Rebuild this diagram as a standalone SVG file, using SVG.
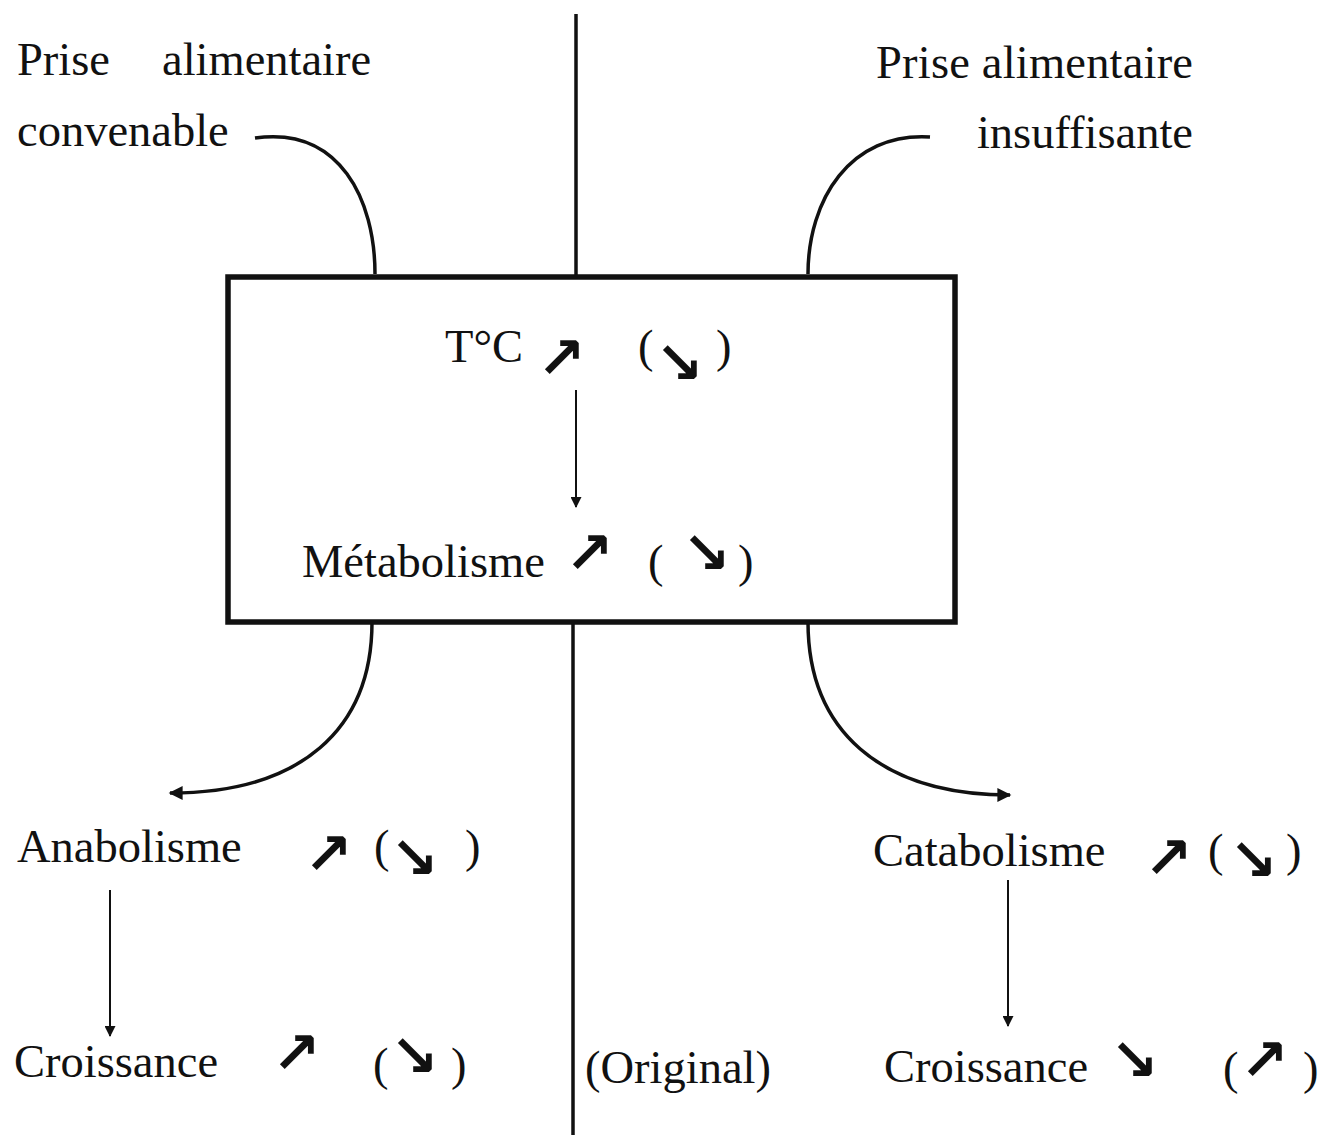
<svg xmlns="http://www.w3.org/2000/svg" width="1324" height="1135" viewBox="0 0 1324 1135">
<style>
.t{font-family:"Liberation Serif","Times New Roman",serif;font-size:46.5px;fill:#111}
.a{font-family:"DejaVu Sans",sans-serif;font-weight:bold;font-size:58px;fill:#111}
.ln{fill:none;stroke:#111;stroke-width:3.5}
.thin{fill:none;stroke:#111;stroke-width:2}
</style>
<defs>
<marker id="ah" viewBox="0 0 10 10" refX="9" refY="5" markerWidth="18" markerHeight="14" markerUnits="userSpaceOnUse" orient="auto"><path d="M0,0 L10,5 L0,10 Z" fill="#111"/></marker>
<marker id="ahs" viewBox="0 0 10 10" refX="9" refY="5" markerWidth="14" markerHeight="11" markerUnits="userSpaceOnUse" orient="auto"><path d="M0,0 L10,5 L0,10 Z" fill="#111"/></marker>
</defs>
<rect width="1324" height="1135" fill="#fff"/>
<g id="connectors">
<line class="ln" x1="576" y1="14" x2="576" y2="276" stroke-width="4"/>
<line class="ln" x1="573" y1="622" x2="573" y2="1135" stroke-width="4"/>
<path class="ln" d="M255,138 C340,126 375,200 375,274"/>
<path class="ln" d="M930,137 C850,132 808,200 808,274"/>
<path class="ln" d="M372,622 C372,730 300,793 170,793" marker-end="url(#ah)"/>
<path class="ln" d="M808,622 C808,730 880,795 1010,795" marker-end="url(#ah)"/>
<line class="thin" x1="576" y1="390" x2="576" y2="507" marker-end="url(#ahs)"/>
<line class="thin" x1="110" y1="890" x2="110" y2="1036" marker-end="url(#ahs)"/>
<line class="thin" x1="1008" y1="880" x2="1008" y2="1026" marker-end="url(#ahs)"/>
</g>
<g id="box">
<rect x="228" y="277" width="727" height="345" fill="none" stroke="#111" stroke-width="5.5"/>
<text class="t" x="445" y="362">T°C</text>
<text class="a" x="537" y="378">↗</text>
<text class="t" x="638" y="362">(</text>
<text class="a" x="655" y="383">↘</text>
<text class="t" x="716" y="362">)</text>
<text class="t" x="302" y="577">Métabolisme</text>
<text class="a" x="565" y="573">↗</text>
<text class="t" x="648" y="577">(</text>
<text class="a" x="682" y="573">↘</text>
<text class="t" x="738" y="577">)</text>
</g>
<g id="prise-convenable">
<text class="t" x="17" y="75">Prise</text>
<text class="t" x="162" y="75">alimentaire</text>
<text class="t" x="17" y="146">convenable</text>
</g>
<g id="prise-insuffisante">
<text class="t" x="876" y="78" textLength="317" lengthAdjust="spacing">Prise alimentaire</text>
<text class="t" x="1193" y="148" text-anchor="end">insuffisante</text>
</g>
<g id="anabolisme">
<text class="t" x="17" y="862">Anabolisme</text>
<text class="a" x="304" y="874">↗</text>
<text class="t" x="374" y="862">(</text>
<text class="a" x="390" y="878">↘</text>
<text class="t" x="465" y="862">)</text>
</g>
<g id="catabolisme">
<text class="t" x="873" y="866">Catabolisme</text>
<text class="a" x="1144" y="878">↗</text>
<text class="t" x="1208" y="866">(</text>
<text class="a" x="1229" y="880">↘</text>
<text class="t" x="1286" y="866">)</text>
</g>
<g id="croissance-left">
<text class="t" x="14" y="1077">Croissance</text>
<text class="a" x="272" y="1073">↗</text>
<text class="t" x="373" y="1080">(</text>
<text class="a" x="390" y="1076">↘</text>
<text class="t" x="451" y="1080">)</text>
</g>
<g id="original">
<text class="t" x="585" y="1083">(Original)</text>
</g>
<g id="croissance-right">
<text class="t" x="884" y="1082">Croissance</text>
<text class="a" x="1110" y="1080">↘</text>
<text class="t" x="1223" y="1084">(</text>
<text class="a" x="1240" y="1080">↗</text>
<text class="t" x="1303" y="1084">)</text>
</g>
</svg>
